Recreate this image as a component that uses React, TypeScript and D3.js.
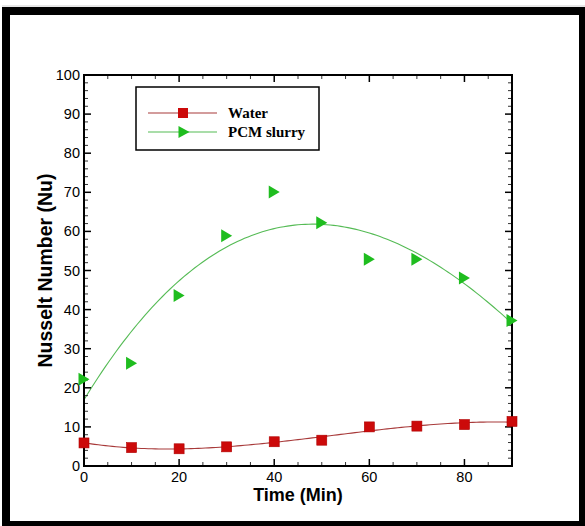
import React from "react";
import * as d3 from "d3";

// Sampling times (min)
const times = [0, 10, 20, 30, 40, 50, 60, 70, 80, 90];
// Nusselt number, water
const waterNu = [5.9, 4.7, 4.4, 4.9, 6.2, 6.6, 10.0, 10.2, 10.6, 11.4];
// Nusselt number, PCM slurry
const slurryNu = [22.2, 26.3, 43.6, 58.9, 70.1, 62.2, 52.9, 52.9, 48.1, 37.2];

const xTicks = [0, 20, 40, 60, 80];
const yTicks = [0, 10, 20, 30, 40, 50, 60, 70, 80, 90, 100];
const seriesNames = ["Water", "PCM slurry"];

const W = 585;
const H = 526;
const plot = { left: 84, right: 512, top: 75, bottom: 466 };

const RED = "#cc0a0a";
const RED_LINE = "#a83a3a";
const GREEN = "#1fbd1f";
const GREEN_LINE = "#55bb55";

// Least-squares polynomial fit (normal equations + Gaussian elimination)
function polyfit(xs: number[], ys: number[], deg: number): number[] {
  const n = deg + 1;
  const A: number[][] = Array.from({ length: n }, () => new Array(n + 1).fill(0));
  for (let i = 0; i < xs.length; i++) {
    for (let r = 0; r < n; r++) {
      for (let c = 0; c < n; c++) A[r][c] += Math.pow(xs[i], r + c);
      A[r][n] += ys[i] * Math.pow(xs[i], r);
    }
  }
  for (let c = 0; c < n; c++) {
    let p = c;
    for (let r = c + 1; r < n; r++) if (Math.abs(A[r][c]) > Math.abs(A[p][c])) p = r;
    [A[c], A[p]] = [A[p], A[c]];
    for (let r = 0; r < n; r++) {
      if (r === c) continue;
      const f = A[r][c] / A[c][c];
      for (let k = c; k <= n; k++) A[r][k] -= f * A[c][k];
    }
  }
  return A.map((row, i) => row[n] / row[i]);
}

function fitCurve(xs: number[], ys: number[]): [number, number][] {
  const coef = polyfit(xs, ys, 3);
  const x0 = d3.min(xs)!;
  const x1 = d3.max(xs)!;
  return d3.range(0, 121).map((i) => {
    const x = x0 + ((x1 - x0) * i) / 120;
    const y = coef.reduce((s, c, k) => s + c * Math.pow(x, k), 0);
    return [x, y];
  });
}

export default function App() {
  const x = d3.scaleLinear().domain([0, 90]).range([plot.left, plot.right]);
  const y = d3.scaleLinear().domain([0, 100]).range([plot.bottom, plot.top]);
  const line = d3
    .line<[number, number]>()
    .x((d) => x(d[0]))
    .y((d) => y(d[1]))
    .curve(d3.curveLinear);

  const waterFit = fitCurve(times, waterNu);
  const slurryFit = fitCurve(times, slurryNu);

  const xMinor = d3.range(0, 91, 5).filter((v) => v % 20 !== 0);
  const yMinor = d3.range(0, 101, 2).filter((v) => v % 10 !== 0);

  const sq = 10;
  const tri = (cx: number, cy: number, w = 11, h = 13) =>
    `M${cx - w / 2},${cy - h / 2}L${cx + w / 2},${cy}L${cx - w / 2},${cy + h / 2}Z`;

  const legend = { x0: 136, y0: 87, x1: 319, y1: 150 };
  const legendRows = [113, 132];

  return (
    <svg
      width={W}
      height={H}
      style={{ position: "absolute", left: 0, top: 0 }}
      fontFamily="'Liberation Sans', Arial, sans-serif"
    >
      {/* outer frame */}
      <rect x={0} y={0} width={W} height={H} fill="#fff" />
      <line x1={2} x2={W} y1={6} y2={6} stroke="#cfcfcf" strokeWidth={1} />
      <rect x={2} y={7} width={W - 2} height={H - 7} fill="#000" />
      <rect x={10} y={15} width={569} height={506} fill="#fff" />

      {/* fitted curves */}
      <path d={line(slurryFit)!} fill="none" stroke={GREEN_LINE} strokeWidth={1.1} />
      <path d={line(waterFit)!} fill="none" stroke={RED_LINE} strokeWidth={1.1} />

      {/* ticks: bottom & top */}
      {xTicks.map((v) => (
        <g key={"xt" + v}>
          <line x1={x(v)} x2={x(v)} y1={plot.bottom} y2={plot.bottom - 7} stroke="#000" strokeWidth={1.5} />
          <line x1={x(v)} x2={x(v)} y1={plot.top} y2={plot.top + 7} stroke="#000" strokeWidth={1.5} />
        </g>
      ))}
      {xMinor.map((v) => (
        <g key={"xm" + v}>
          <line x1={x(v)} x2={x(v)} y1={plot.bottom} y2={plot.bottom - 4} stroke="#333" strokeWidth={1} />
          <line x1={x(v)} x2={x(v)} y1={plot.top} y2={plot.top + 4} stroke="#333" strokeWidth={1} />
        </g>
      ))}
      {/* ticks: left & right */}
      {yTicks.map((v) => (
        <g key={"yt" + v}>
          <line x1={plot.left} x2={plot.left + 7} y1={y(v)} y2={y(v)} stroke="#000" strokeWidth={1.5} />
          <line x1={plot.right} x2={plot.right - 7} y1={y(v)} y2={y(v)} stroke="#000" strokeWidth={1.5} />
        </g>
      ))}
      {yMinor.map((v) => (
        <g key={"ym" + v}>
          <line x1={plot.left} x2={plot.left + 4} y1={y(v)} y2={y(v)} stroke="#333" strokeWidth={1} />
          <line x1={plot.right} x2={plot.right - 4} y1={y(v)} y2={y(v)} stroke="#333" strokeWidth={1} />
        </g>
      ))}

      {/* plot box */}
      <rect
        x={plot.left}
        y={plot.top}
        width={plot.right - plot.left}
        height={plot.bottom - plot.top}
        fill="none"
        stroke="#000"
        strokeWidth={2}
      />

      {/* tick labels */}
      {xTicks.map((v) => (
        <text key={"xl" + v} x={x(v)} y={482} fontSize={14.5} textAnchor="middle" fill="#000">
          {v}
        </text>
      ))}
      {yTicks.map((v) => (
        <text key={"yl" + v} x={80} y={y(v) + 5} fontSize={14.5} textAnchor="end" fill="#000">
          {v}
        </text>
      ))}

      {/* axis titles */}
      <text x={(plot.left + plot.right) / 2} y={501} fontSize={18} fontWeight="bold" textAnchor="middle">
        Time (Min)
      </text>
      <text
        transform={`translate(52,${(plot.top + plot.bottom) / 2}) rotate(-90)`}
        fontSize={19.5}
        fontWeight="bold"
        textAnchor="middle"
      >
        Nusselt Number (Nu)
      </text>

      {/* markers */}
      {times.map((t, i) => (
        <rect
          key={"w" + t}
          x={x(t) - sq / 2}
          y={y(waterNu[i]) - sq / 2}
          width={sq}
          height={sq}
          fill={RED}
          stroke="#b00000"
          strokeWidth={0.6}
        />
      ))}
      {times.map((t, i) => (
        <path key={"s" + t} d={tri(x(t), y(slurryNu[i]))} fill={GREEN} />
      ))}

      {/* legend */}
      <rect
        x={legend.x0}
        y={legend.y0}
        width={legend.x1 - legend.x0}
        height={legend.y1 - legend.y0}
        fill="#fff"
        stroke="#000"
        strokeWidth={1.5}
      />
      <line x1={148} x2={217} y1={legendRows[0]} y2={legendRows[0]} stroke={RED_LINE} strokeWidth={1.1} />
      <rect x={183 - 5} y={legendRows[0] - 5} width={10} height={10} fill={RED} />
      <line x1={148} x2={217} y1={legendRows[1]} y2={legendRows[1]} stroke={GREEN_LINE} strokeWidth={1.1} />
      <path d={tri(184, legendRows[1], 11, 12)} fill={GREEN} />
      {seriesNames.map((name, i) => (
        <text
          key={name}
          x={228}
          y={legendRows[i] + 5}
          fontSize={15}
          fontWeight="bold"
          fontFamily="'Liberation Serif', 'Times New Roman', serif"
        >
          {name}
        </text>
      ))}
    </svg>
  );
}
